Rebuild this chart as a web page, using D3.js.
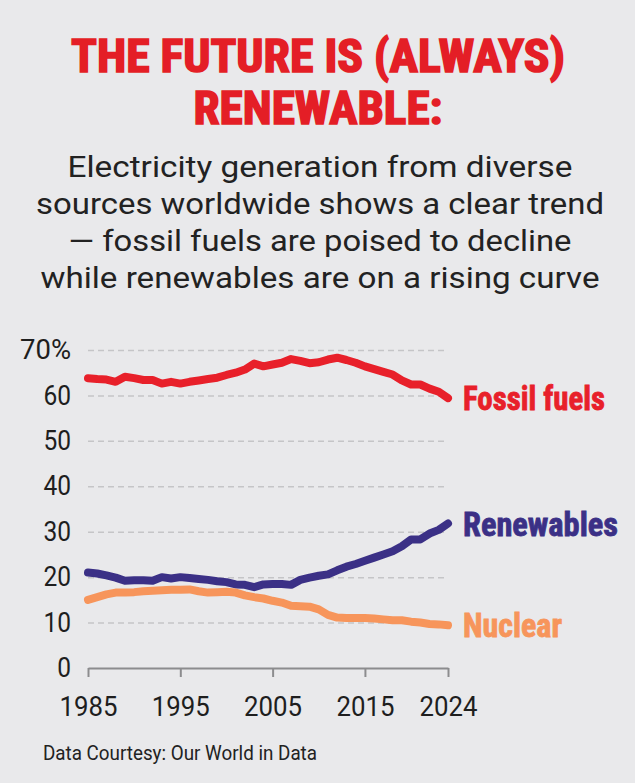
<!DOCTYPE html>
<html>
<head>
<meta charset="utf-8">
<script src="https://cdn.jsdelivr.net/npm/d3@7"></script>
<style>
  body { margin: 0; background: #e9e9eb; }
  svg { display: block; }
</style>
</head>
<body>
<svg id="svg" width="635" height="783"></svg>
<script>
// data (share of world electricity, %)
var years = [1985, 1986, 1987, 1988, 1989, 1990, 1991, 1992, 1993, 1994,
    1995, 1996, 1997, 1998, 1999, 2000, 2001, 2002, 2003, 2004,
    2005, 2006, 2007, 2008, 2009, 2010, 2011, 2012, 2013, 2014,
    2015, 2016, 2017, 2018, 2019, 2020, 2021, 2022, 2023, 2024];
var fossil = [63.8, 63.6, 63.5, 63.0, 64.1, 63.8, 63.4, 63.4, 62.6, 63.0,
    62.6, 63.0, 63.3, 63.6, 63.9, 64.5, 65.0, 65.7, 67.0, 66.4,
    66.8, 67.2, 68.0, 67.6, 67.1, 67.3, 67.9, 68.3, 67.8, 67.2,
    66.4, 65.8, 65.2, 64.6, 63.3, 62.4, 62.4, 61.5, 60.8, 59.4];
var renewables = [21.0, 20.8, 20.4, 19.9, 19.2, 19.3, 19.3, 19.2, 20.0, 19.7,
    20.0, 19.8, 19.6, 19.4, 19.1, 18.9, 18.4, 18.3, 17.8, 18.4,
    18.5, 18.5, 18.3, 19.4, 19.9, 20.3, 20.6, 21.5, 22.3, 22.9,
    23.6, 24.3, 25.0, 25.7, 26.8, 28.3, 28.3, 29.6, 30.4, 31.8];
var nuclear = [15.0, 15.6, 16.2, 16.6, 16.6, 16.7, 16.9, 17.0, 17.1, 17.2,
    17.2, 17.3, 16.9, 16.6, 16.7, 16.8, 16.6, 16.0, 15.6, 15.3,
    14.8, 14.4, 13.7, 13.6, 13.5, 12.9, 11.7, 11.1, 11.0, 11.0,
    11.0, 10.9, 10.7, 10.5, 10.5, 10.2, 10.0, 9.7, 9.6, 9.4];
var seriesNames = ['Fossil fuels', 'Renewables', 'Nuclear'];
var seriesColors = ['#e8202a', '#3b3086', '#f7955b'];
var yTicks = [0, 10, 20, 30, 40, 50, 60, 70];
var xTicks = [1985, 1995, 2005, 2015, 2024];

var titleLines = ['THE FUTURE IS (ALWAYS)', 'RENEWABLE:'];
var subtitleLines = ['Electricity generation from diverse',
    'sources worldwide shows a clear trend',
    '\u2014 fossil fuels are poised to decline',
    'while renewables are on a rising curve'];
var source = 'Data Courtesy: Our World in Data';

var svg = d3.select('#svg');
var cond = "'Liberation Sans Narrow', 'Roboto Condensed', Roboto, sans-serif";

// title
var titleW = [494, 249];
svg.append('g').selectAll('text').data(titleLines).enter().append('text')
    .attr('x', 318)
    .attr('y', (d, i) => 72 + i * 52)
    .attr('text-anchor', 'middle')
    .attr('font-family', cond)
    .attr('font-weight', 'bold')
    .attr('font-size', 46)
    .attr('fill', '#e41e26')
    .attr('stroke', '#e41e26')
    .attr('stroke-width', 1.6)
    .attr('textLength', (d, i) => titleW[i])
    .attr('lengthAdjust', 'spacingAndGlyphs')
    .text(d => d);

// subtitle
var subW = [505, 568, 503, 559];
var subY = [177, 214, 251, 288];
svg.append('g').selectAll('text').data(subtitleLines).enter().append('text')
    .attr('x', 320)
    .attr('y', (d, i) => subY[i])
    .attr('text-anchor', 'middle')
    .attr('font-family', 'Roboto, sans-serif')
    .attr('font-size', 30)
    .attr('fill', '#222')
    .attr('textLength', (d, i) => subW[i])
    .attr('lengthAdjust', 'spacingAndGlyphs')
    .text(d => d);

var x = d3.scaleLinear().domain([1985, 2024]).range([88, 448]);
var y = d3.scaleLinear().domain([0, 70]).range([668, 350]);

// gridlines
svg.append('g')
    .attr('transform', 'translate(88,0)')
    .call(d3.axisLeft(y).tickValues(yTicks.filter(d => d > 0)).tickSize(-360).tickFormat(''))
    .call(g => g.select('.domain').remove())
    .call(g => g.selectAll('line')
        .attr('stroke', '#c5c5c7')
        .attr('stroke-width', 1.5)
        .attr('stroke-dasharray', '6,4'));

// y axis labels
svg.append('g')
    .attr('transform', 'translate(88,0)')
    .call(d3.axisLeft(y).tickValues(yTicks).tickSize(0).tickPadding(17)
        .tickFormat(d => d === 70 ? '70%' : d))
    .call(g => g.select('.domain').remove())
    .call(g => g.selectAll('text')
        .attr('font-family', 'Roboto, sans-serif')
        .attr('font-size', 27)
        .attr('fill', '#1e1e1e')
        .attr('textLength', d => d === 70 ? 51 : String(d).length * 13.8)
        .attr('lengthAdjust', 'spacingAndGlyphs'));

// x axis
svg.append('g')
    .attr('transform', 'translate(0,668)')
    .call(d3.axisBottom(x).tickValues(xTicks).tickSize(9).tickSizeOuter(0)
        .tickPadding(19).tickFormat(d3.format('d')))
    .call(g => g.select('.domain').attr('stroke', '#8c8c8e').attr('stroke-width', 2))
    .call(g => g.selectAll('line').attr('stroke', '#8c8c8e').attr('stroke-width', 2))
    .call(g => g.selectAll('text')
        .attr('font-family', 'Roboto, sans-serif')
        .attr('font-size', 28)
        .attr('fill', '#1e1e1e')
        .attr('textLength', 58)
        .attr('lengthAdjust', 'spacingAndGlyphs'));

// lines
var series = [fossil, renewables, nuclear];
var line = d3.line()
    .x((d, i) => x(years[i]))
    .y(d => y(d));

svg.append('g').selectAll('path').data(series).enter().append('path')
    .attr('d', line)
    .attr('fill', 'none')
    .attr('stroke', (d, i) => seriesColors[i])
    .attr('stroke-width', 8)
    .attr('stroke-linecap', 'round')
    .attr('stroke-linejoin', 'round');

// end labels
var labelW = [142, 155, 99];
svg.append('g').selectAll('text').data(series).enter().append('text')
    .attr('x', x(2024) + 15)
    .attr('y', d => y(d[d.length - 1]) + 12)
    .attr('font-family', cond)
    .attr('font-weight', 'bold')
    .attr('font-size', 33)
    .attr('fill', (d, i) => seriesColors[i])
    .attr('stroke', (d, i) => seriesColors[i])
    .attr('stroke-width', 0.8)
    .attr('textLength', (d, i) => labelW[i])
    .attr('lengthAdjust', 'spacingAndGlyphs')
    .text((d, i) => seriesNames[i]);

// source
svg.append('text')
    .attr('x', 43)
    .attr('y', 760)
    .attr('font-family', 'Roboto, sans-serif')
    .attr('font-size', 21)
    .attr('fill', '#222')
    .attr('textLength', 274)
    .attr('lengthAdjust', 'spacingAndGlyphs')
    .text(source);
</script>
</body>
</html>
